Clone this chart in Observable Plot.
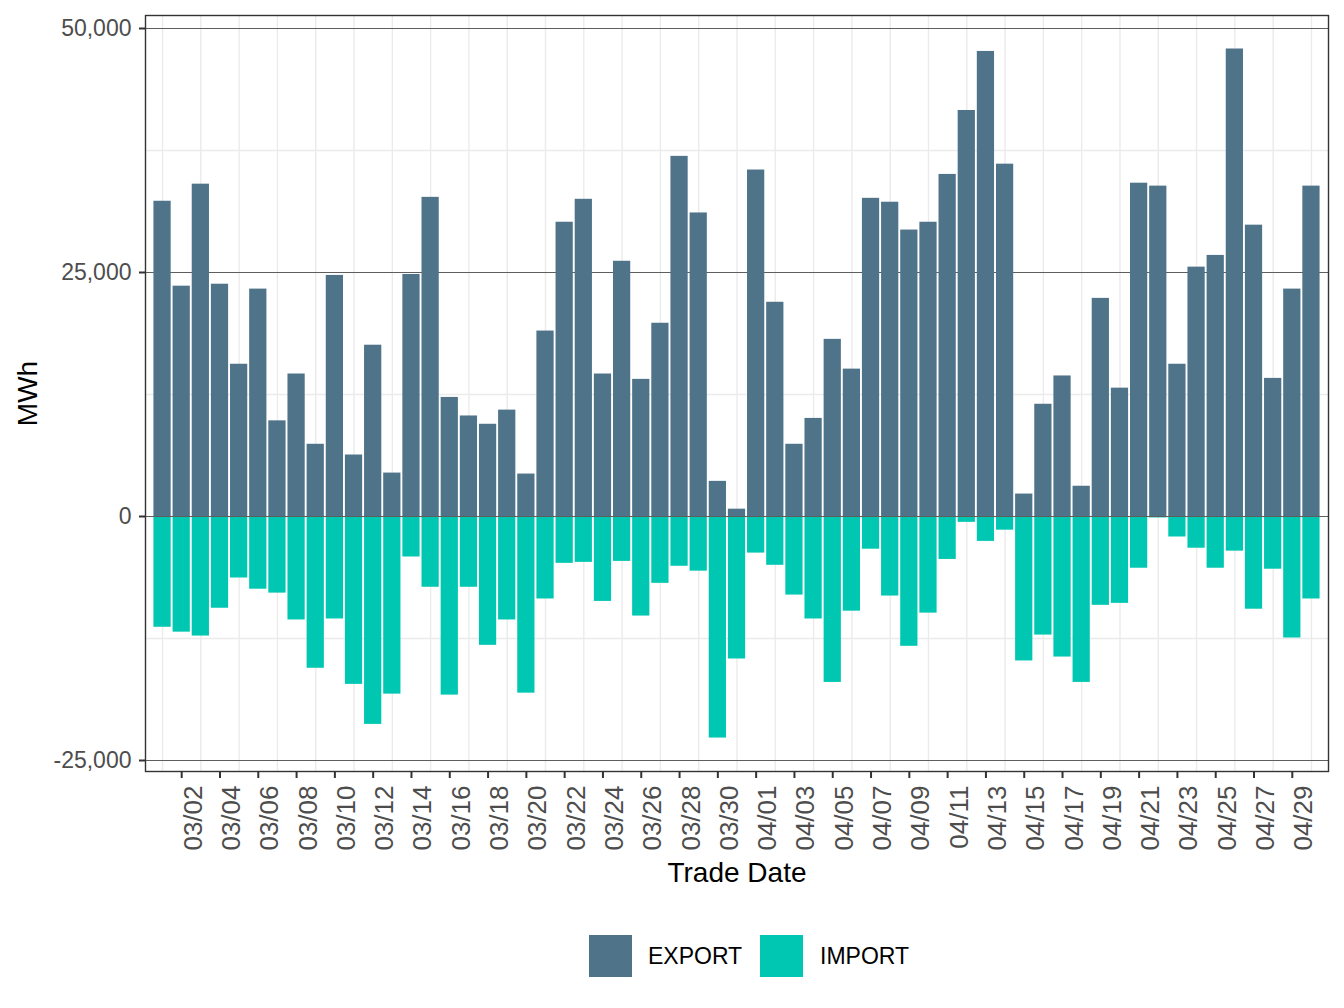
<!DOCTYPE html>
<html>
<head>
<meta charset="utf-8">
<script src="https://cdn.jsdelivr.net/npm/d3@7"></script>
<script src="https://cdn.jsdelivr.net/npm/@observablehq/plot@0.6"></script>
<style>
  body { margin: 0; background: #fff; font-family: "Liberation Sans", Arial, Helvetica, sans-serif; }
  #chart { position: relative; width: 1344px; height: 1008px; }
  .legend-key { position: absolute; top: 935px; width: 43px; height: 42px; }
  .legend-label { position: absolute; top: 956px; transform: translateY(-50%); font-size: 23px; color: #000; line-height: 1; }
</style>
</head>
<body>
<div id="chart"></div>
<script>
// Daily cleared volumes by trade date (MWh)
const tradeDates = [
  "03/01","03/02","03/03","03/04","03/05","03/06","03/07","03/08","03/09","03/10",
  "03/11","03/12","03/13","03/14","03/15","03/16","03/17","03/18","03/19","03/20",
  "03/21","03/22","03/23","03/24","03/25","03/26","03/27","03/28","03/29","03/30",
  "03/31","04/01","04/02","04/03","04/04","04/05","04/06","04/07","04/08","04/09",
  "04/10","04/11","04/12","04/13","04/14","04/15","04/16","04/17","04/18","04/19",
  "04/20","04/21","04/22","04/23","04/24","04/25","04/26","04/27","04/28","04/29",
  "04/30"
];
const exportMWh = [
  32300, 23600, 34050, 23800, 15600, 23300, 9800, 14600, 7400, 24700,
  6300, 17550, 4450, 24800, 32700, 12200, 10300, 9450, 10900, 4350,
  19000, 30150, 32500, 14600, 26150, 14050, 19800, 36900, 31100, 3600,
  750, 35500, 21950, 7400, 10050, 18150, 15100, 32600, 32200, 29350,
  30150, 35050, 41600, 47650, 36100, 2300, 11500, 14400, 3100, 22350,
  13150, 34150, 33850, 15600, 25550, 26750, 47900, 29850, 14150, 23300,
  33850
];
const importMWh = [
  -11350, -11850, -12250, -9400, -6300, -7450, -7850, -10600, -15550, -10500,
  -17200, -21300, -18200, -4150, -7250, -18300, -7250, -13200, -10600, -18100,
  -8450, -4800, -4700, -8700, -4600, -10200, -6850, -5100, -5600, -22700,
  -14600, -3750, -5000, -8050, -10500, -17000, -9700, -3350, -8150, -13300,
  -9900, -4400, -600, -2550, -1400, -14800, -12150, -14400, -17000, -9100,
  -8900, -5300, -150, -2100, -3250, -5300, -3550, -9500, -5400, -12450,
  -8450
];
const seriesNames = ["EXPORT", "IMPORT"];
const seriesColors = ["#4f7389", "#00c7b2"];
const yTicks = [-25000, 0, 25000, 50000];
const yMinorTicks = [-12500, 12500, 37500];

// labelled ticks every other day; light grid on the days in between
const xTicks = tradeDates.filter((d, i) => i % 2 === 1);
const xMinor = tradeDates.filter((d, i) => i % 2 === 0);

const rows = [];
tradeDates.forEach((d, i) => {
  rows.push({date: d, series: seriesNames[0], value: exportMWh[i]});
  rows.push({date: d, series: seriesNames[1], value: importMWh[i]});
});

const fmt = v => v.toLocaleString("en-US");
const font = '"Liberation Sans", Arial, Helvetica, sans-serif';

const chart = Plot.plot({
  width: 1344,
  height: 900,
  marginLeft: 145,
  marginRight: 16,
  marginTop: 15,
  marginBottom: 129,
  style: {fontFamily: font, background: "#fff", overflow: "visible"},
  x: {type: "band", domain: tradeDates, paddingInner: 0.1, paddingOuter: 0.44, round: false, label: null},
  y: {domain: [-26127, 51332], label: null},
  color: {domain: seriesNames, range: seriesColors},
  marks: [
    Plot.ruleX(xMinor, {x: d => d, stroke: "#ebebeb", strokeWidth: 1.4}),
    Plot.ruleY(yMinorTicks, {stroke: "#ebebeb", strokeWidth: 1.4}),
    Plot.ruleY(yTicks, {stroke: "#5e5e5e", strokeWidth: 1}),
    Plot.barY(rows, {x: "date", y1: 0, y2: "value", fill: "series"}),
    Plot.ruleY([0], {stroke: "#5e5e5e", strokeWidth: 1}),
    Plot.frame({stroke: "#333", strokeWidth: 1.4}),
    Plot.axisY(yTicks, {
      tickSize: 6, tickPadding: 8, tickFormat: fmt, fontSize: 23,
      fill: "#4d4d4d", stroke: "#333", strokeWidth: 2, label: null
    }),
    Plot.axisX(xTicks, {
      tickSize: 7, tickFormat: () => "", stroke: "#333", strokeWidth: 2, label: null
    }),
    Plot.text(xTicks, {
      x: d => d, text: d => d, frameAnchor: "bottom", rotate: -90,
      textAnchor: "end", lineAnchor: "bottom", dx: 20, dy: 14, fontSize: 26, fill: "#4d4d4d"
    }),
    Plot.text(["MWh"], {
      text: d => d, frameAnchor: "left", rotate: -90, textAnchor: "middle",
      lineAnchor: "middle", dx: -117, fontSize: 28, fill: "#000"
    }),
    Plot.text(["Trade Date"], {
      text: d => d, frameAnchor: "bottom", textAnchor: "middle",
      lineAnchor: "bottom", dy: 110, fontSize: 28, fill: "#000"
    })
  ]
});

const root = document.getElementById("chart");
root.appendChild(chart);

// legend below the plot
const keyLeft = [589, 760];
const labelLeft = [648, 820];
seriesNames.forEach((name, i) => {
  const key = document.createElement("div");
  key.className = "legend-key";
  key.style.left = keyLeft[i] + "px";
  key.style.background = seriesColors[i];
  root.appendChild(key);
  const lab = document.createElement("div");
  lab.className = "legend-label";
  lab.style.left = labelLeft[i] + "px";
  lab.textContent = name;
  root.appendChild(lab);
});
</script>
</body>
</html>
